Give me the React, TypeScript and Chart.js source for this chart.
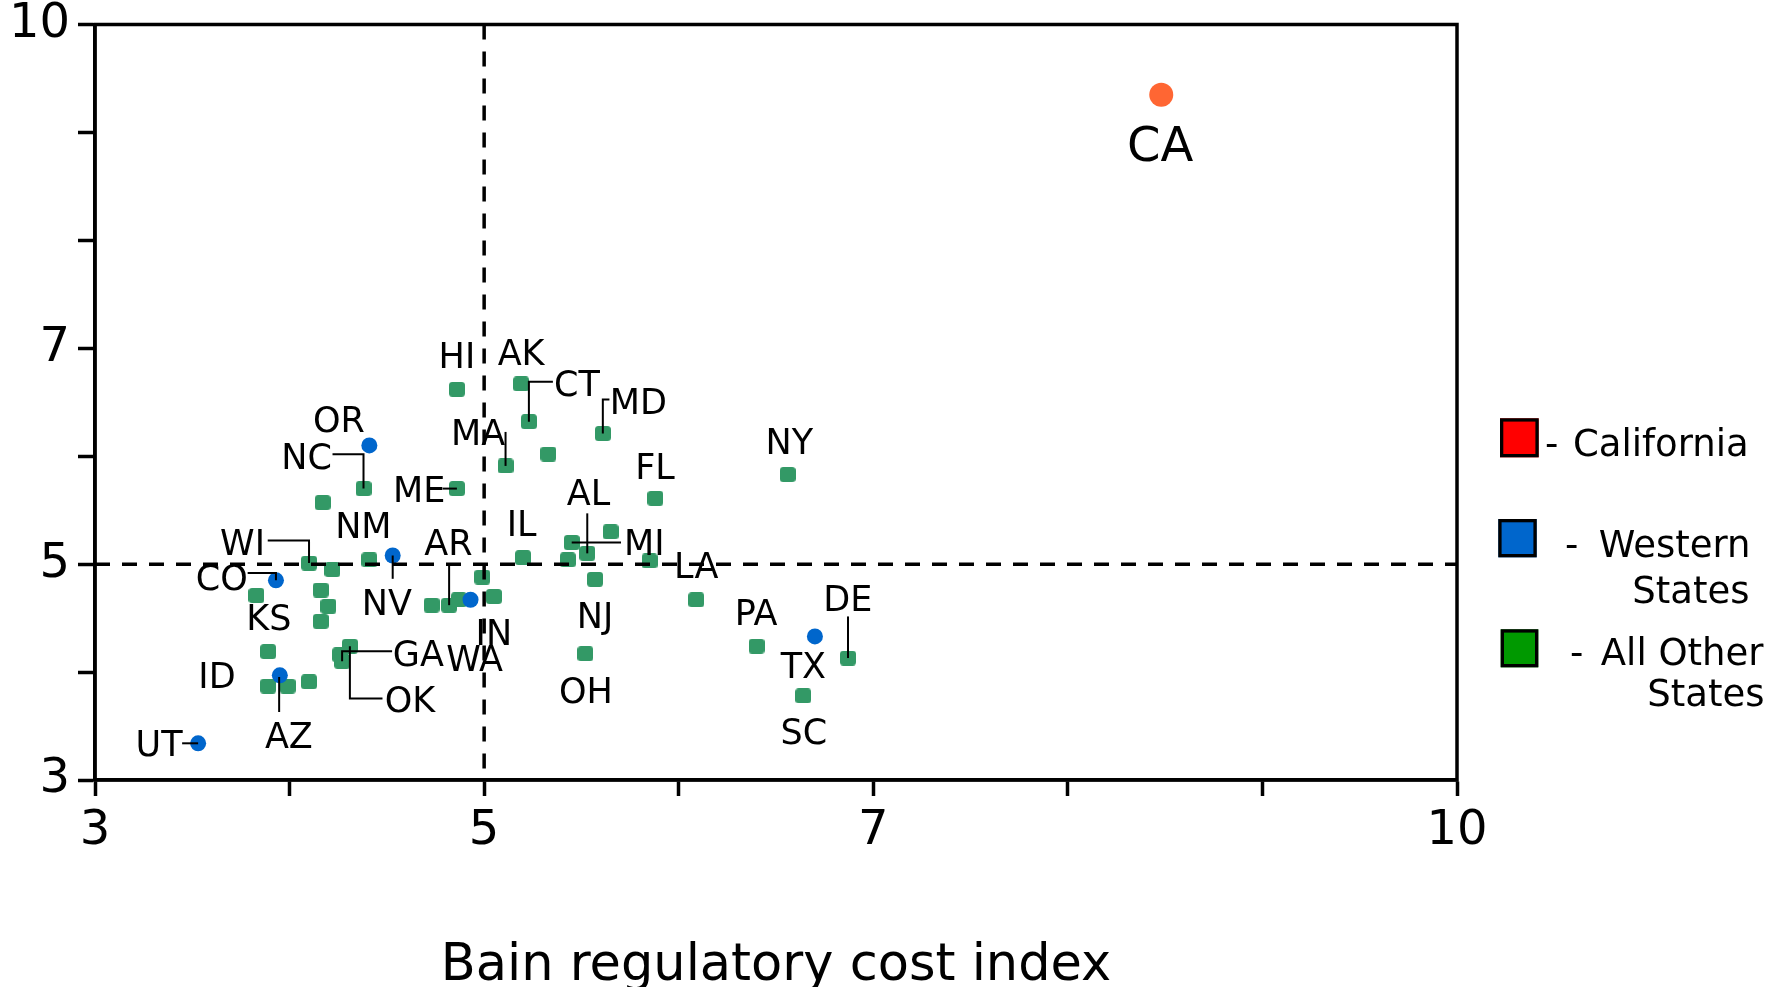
import React, { useEffect, useRef } from 'react';
import { Chart, registerables } from 'chart.js';

Chart.register(...registerables);

// ---------------- data ----------------
const xTickValues = [3, 5, 7, 10];
const yTickValues = [3, 5, 7, 10];
const xAxisTitle = 'Bain regulatory cost index';
const referenceX = 5;
const referenceY = 5;

const californiaStates = ['CA'];
const californiaX = [8.48];
const californiaY = [9.35];

const westernStates = ['OR', 'NV', 'CO', 'WA', 'AZ', 'UT', 'TX'];
const westernX = [4.41, 4.53, 3.93, 4.93, 3.95, 3.53, 6.7];
const westernY = [6.1, 5.08, 4.85, 4.67, 3.97, 3.34, 4.33];

const otherStates = ['HI', 'AK', 'CT', '', 'MA', 'MD', 'NC', 'ME', '', 'FL', 'NY', 'WI', '', 'NM', 'KS', '', '', '', '', 'AR', '', '', 'IN', 'IL', 'MI', '', 'AL', '', '', 'NJ', 'LA', 'OH', 'PA', 'DE', 'SC', '', 'ID', '', '', 'OK', '', 'GA'];
const otherX = [4.86, 5.19, 5.23, 5.33, 5.11, 5.61, 4.38, 4.86, 4.17, 5.88, 6.56, 4.1, 4.22, 4.41, 3.83, 4.16, 4.2, 4.16, 4.73, 4.82, 4.87, 4.99, 5.05, 5.2, 5.45, 5.43, 5.53, 5.65, 5.85, 5.57, 6.09, 5.52, 6.4, 6.87, 6.64, 3.89, 3.89, 3.99, 4.1, 4.31, 4.26, 4.27];
const otherY = [6.62, 6.67, 6.32, 6.02, 5.91, 6.21, 5.7, 5.7, 5.57, 5.61, 5.83, 5.01, 4.95, 5.04, 4.71, 4.76, 4.61, 4.47, 4.62, 4.62, 4.67, 4.88, 4.7, 5.06, 5.2, 5.04, 5.1, 5.3, 5.03, 4.86, 4.67, 4.17, 4.24, 4.13, 3.78, 4.19, 3.87, 3.87, 3.91, 4.24, 4.16, 4.1];

const legendTexts = [['California'], ['Western', 'States'], ['All Other', 'States']];

// ---------------- layout / style ----------------
const FONT = '"DejaVu Sans", Verdana, sans-serif';
type Lay = { dx: number; dy: number; size?: number; leader?: number[][] };
const labelLayout: Record<string, Lay> = {
  CA: { dx: -1, dy: 49, size: 48 },
  HI: { dx: 0, dy: -34 },
  AK: { dx: 0, dy: -32 },
  CT: { dx: 48, dy: -38, leader: [[0, 0], [0, -40], [24, -40]] },
  MD: { dx: 35.6, dy: -32.5, leader: [[0, 0], [0, -34], [6.6, -34]] },
  MA: { dx: -27.4, dy: -34, leader: [[0, 0], [0, -34]] },
  OR: { dx: -30.4, dy: -26.5 },
  NC: { dx: -57, dy: -32, leader: [[0, 0], [0, -34.4], [-31, -34.4]] },
  ME: { dx: -37.7, dy: 0.5, leader: [[0, 0], [-14.3, 0]] },
  NM: { dx: -6, dy: -34.2 },
  WI: { dx: -66.5, dy: -20.8, leader: [[0, 0], [0, -22.6], [-41.3, -22.6]] },
  CO: { dx: -54.2, dy: -3.2, leader: [[0, 0], [0, -7.4], [-28.3, -7.4]] },
  NV: { dx: -5.9, dy: 46.7, leader: [[0, 0], [0, 23.3]] },
  AR: { dx: -0.8, dy: -62.5, leader: [[0, 0], [0, -41]] },
  KS: { dx: 12.3, dy: 21.8 },
  IN: { dx: 0, dy: 35.8 },
  GA: { dx: 76.3, dy: -8.4, leader: [[0, 0], [0, -10], [50, -10]] },
  WA: { dx: 4, dy: 58.3 },
  OK: { dx: 60.1, dy: 53.2, leader: [[0, 0], [0, 52.3], [32.6, 52.3]] },
  ID: { dx: -51.2, dy: -11 },
  AZ: { dx: 9, dy: 60, leader: [[-0.7, 1.7], [-0.7, 36.7]] },
  UT: { dx: -39, dy: 0, leader: [[0, 0], [-16, 0]] },
  IL: { dx: -1.5, dy: -34.4 },
  AL: { dx: 1.3, dy: -60.8, leader: [[0, 0], [0, -40]] },
  MI: { dx: 72.6, dy: -0.6, leader: [[0, 0], [49.3, 0]] },
  FL: { dx: -0.4, dy: -32.3 },
  NY: { dx: 1.7, dy: -33.3 },
  LA: { dx: 0, dy: -34.5 },
  NJ: { dx: 0, dy: 35.7 },
  OH: { dx: 0.6, dy: 36.4 },
  PA: { dx: -0.4, dy: -33.7 },
  DE: { dx: -0.2, dy: -60, leader: [[0, 0], [0, -41.6]] },
  TX: { dx: -11.5, dy: 28.3 },
  SC: { dx: 0.7, dy: 35.1 },
};

const legendLayout = [
  { color: '#ff0000', box: [1500, 418.3, 38.7, 39], dashX: 1545, lines: [{ x: 1573, y: 455.5, align: 'left' }] },
  { color: '#0066cc', box: [1498.3, 519, 38.4, 38.3], dashX: 1565, lines: [{ x: 1750.5, y: 556.5, align: 'right' }, { x: 1749.5, y: 602.5, align: 'right' }] },
  { color: '#009900', box: [1500.7, 629.3, 37.6, 38], dashX: 1570, lines: [{ x: 1763.5, y: 664.5, align: 'right' }, { x: 1764.5, y: 706, align: 'right' }] },
];

const overlay = {
  id: 'overlay',
  afterDatasetsDraw(chart: any) {
    const { ctx, chartArea: a, scales } = chart;
    const xs = scales.x;
    const ys = scales.y;
    ctx.save();
    ctx.strokeStyle = '#000';
    ctx.fillStyle = '#000';
    // frame
    ctx.lineWidth = 3.5;
    ctx.strokeRect(a.left, a.top, a.right - a.left, a.bottom - a.top);
    // reference dashed lines
    ctx.lineWidth = 3.5;
    ctx.setLineDash([15, 12]);
    const rx = xs.getPixelForValue(referenceX);
    const ry = ys.getPixelForValue(referenceY);
    ctx.beginPath();
    ctx.moveTo(a.left, ry);
    ctx.lineTo(a.right, ry);
    ctx.moveTo(rx, a.top);
    ctx.lineTo(rx, a.bottom);
    ctx.stroke();
    ctx.setLineDash([]);
    // state labels
    ctx.lineWidth = 2;
    ctx.textAlign = 'center';
    ctx.textBaseline = 'alphabetic';
    const drawSet = (names: string[], vx: number[], vy: number[]) => {
      names.forEach((n, i) => {
        const lay = labelLayout[n];
        if (!n || !lay) return;
        const px = xs.getPixelForValue(vx[i]);
        const py = ys.getPixelForValue(vy[i]);
        if (lay.leader) {
          ctx.beginPath();
          lay.leader.forEach(([dx, dy], k) => {
            if (k === 0) ctx.moveTo(px + dx, py + dy);
            else ctx.lineTo(px + dx, py + dy);
          });
          ctx.stroke();
        }
        const size = lay.size ?? 35;
        ctx.font = `${size}px ${FONT}`;
        ctx.fillText(n, px + lay.dx, py + lay.dy + size * 0.3645);
      });
    };
    drawSet(californiaStates, californiaX, californiaY);
    drawSet(westernStates, westernX, westernY);
    drawSet(otherStates, otherX, otherY);
    // legend
    ctx.font = `37px ${FONT}`;
    legendLayout.forEach((item, i) => {
      const [bx, by, bw, bh] = item.box;
      ctx.fillStyle = item.color;
      ctx.fillRect(bx, by, bw, bh);
      ctx.lineWidth = 3.3;
      ctx.strokeStyle = '#000';
      ctx.strokeRect(bx + 1.65, by + 1.65, bw - 3.3, bh - 3.3);
      ctx.fillStyle = '#000';
      ctx.textAlign = 'left';
      ctx.fillText('-', item.dashX, item.lines[0].y);
      item.lines.forEach((ln, k) => {
        ctx.textAlign = ln.align as CanvasTextAlign;
        ctx.fillText(legendTexts[i][k], ln.x, ln.y);
      });
    });
    ctx.restore();
  },
};

function makeGreenMark(): HTMLCanvasElement {
  const c = document.createElement('canvas');
  c.width = 16;
  c.height = 15;
  const g = c.getContext('2d')!;
  g.fillStyle = '#339966';
  const r = 3.5;
  g.beginPath();
  g.moveTo(r, 0);
  g.lineTo(16 - r, 0);
  g.arcTo(16, 0, 16, r, r);
  g.lineTo(16, 15 - r);
  g.arcTo(16, 15, 16 - r, 15, r);
  g.lineTo(r, 15);
  g.arcTo(0, 15, 0, 15 - r, r);
  g.lineTo(0, r);
  g.arcTo(0, 0, r, 0, r);
  g.closePath();
  g.fill();
  return c;
}

const toPoints = (xs: number[], ys: number[]) => xs.map((v, i) => ({ x: v, y: ys[i] }));

export default function App() {
  const ref = useRef<HTMLCanvasElement>(null);
  useEffect(() => {
    const canvas = ref.current;
    if (!canvas) return;
    const greenMark = makeGreenMark();
    const chart = new Chart(canvas, {
      type: 'scatter',
      data: {
        datasets: [
          { label: 'California', data: toPoints(californiaX, californiaY), pointStyle: 'circle', pointRadius: 12, backgroundColor: '#ff6633', borderWidth: 0 },
          { label: 'Western States', data: toPoints(westernX, westernY), pointStyle: 'circle', pointRadius: 8, backgroundColor: '#0066cc', borderWidth: 0 },
          { label: 'All Other States', data: toPoints(otherX, otherY), pointStyle: greenMark as any, pointRadius: 8, backgroundColor: '#339966', borderWidth: 0 },
        ],
      },
      options: {
        responsive: false,
        animation: false,
        devicePixelRatio: 1,
        events: [],
        layout: { padding: { top: 24.5, right: 321, left: 0, bottom: 0 } },
        plugins: { legend: { display: false }, tooltip: { enabled: false } },
        scales: {
          x: {
            type: 'linear',
            position: 'bottom',
            min: 3,
            max: 10,
            afterFit: (s: any) => { s.height = 207; },
            ticks: {
              stepSize: 1,
              autoSkip: false,
              maxRotation: 0,
              padding: 12,
              color: '#000',
              font: { family: FONT, size: 48, lineHeight: 1 },
              callback: (v: any) => (xTickValues.includes(Number(v)) ? String(v) : ''),
            },
            grid: { drawOnChartArea: false, drawTicks: true, tickLength: 16, tickWidth: 3.5, tickColor: '#000' },
            border: { display: true, color: '#000', width: 3.5 },
            title: { display: true, text: xAxisTitle, color: '#000', font: { family: FONT, size: 51, lineHeight: 0.78 }, padding: { top: 0, bottom: 0 } },
          },
          y: {
            type: 'linear',
            position: 'left',
            min: 3,
            max: 10,
            afterFit: (s: any) => { s.width = 95; },
            ticks: {
              stepSize: 1,
              autoSkip: false,
              padding: 8,
              color: '#000',
              font: { family: FONT, size: 48, lineHeight: 0.6 },
              callback: (v: any) => (yTickValues.includes(Number(v)) ? String(v) : ''),
            },
            grid: { drawOnChartArea: false, drawTicks: true, tickLength: 17, tickWidth: 3.5, tickColor: '#000' },
            border: { display: true, color: '#000', width: 3.5 },
          },
        },
      } as any,
      plugins: [overlay],
    });
    return () => chart.destroy();
  }, []);
  return (
    <div style={{ position: 'fixed', left: 0, top: 0, width: 1778, height: 987, background: '#fff' }}>
      <canvas ref={ref} width={1778} height={987} style={{ display: 'block', width: 1778, height: 987 }} />
    </div>
  );
}
